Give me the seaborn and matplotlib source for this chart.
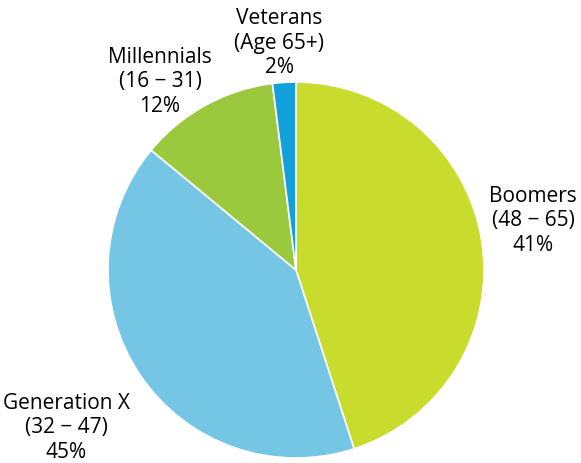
import matplotlib
matplotlib.use("Agg")
import matplotlib.pyplot as plt
import seaborn as sns

# slice sizes as drawn in the picture
groups = ["Boomers", "Generation X", "Millennials", "Veterans"]
shares = [45, 41, 12, 2]
# label texts as printed on the chart
ages = ["(48 − 65)", "(32 − 47)", "(16 − 31)", "(Age 65+)"]
pct_labels = ["41%", "45%", "12%", "2%"]

colors = ["#c8dc2e", "#74c6e4", "#9bc93e", "#11a0d9"]

sns.set_theme(style="white")
plt.rcParams["font.family"] = ["Open Sans", "DejaVu Sans"]

W, H = 581, 464
fig = plt.figure(figsize=(W / 100, H / 100), dpi=100)

# pie centre (296, 271) px, radius 188 px
cx, cy, r = 296, 271, 188
ax = fig.add_axes([(cx - r) / W, (H - cy - r) / H, 2 * r / W, 2 * r / H])
ax.pie(shares, colors=colors, startangle=90, counterclock=False,
       wedgeprops=dict(edgecolor="white", linewidth=1.2))
ax.set_xlim(-1, 1)
ax.set_ylim(-1, 1)
ax.set_aspect("equal")
ax.axis("off")

# label anchors (pixel centres)
label_pos = [(533, 221), (66, 428), (160, 82), (279, 43)]
for name, age, pct, (px, py) in zip(groups, ages, pct_labels, label_pos):
    fig.text(px / W, 1 - py / H, f"{name}\n{age}\n{pct}",
             ha="center", va="center", fontsize=15, linespacing=1.2,
             color="black")

fig.savefig("out.png", dpi=100)
